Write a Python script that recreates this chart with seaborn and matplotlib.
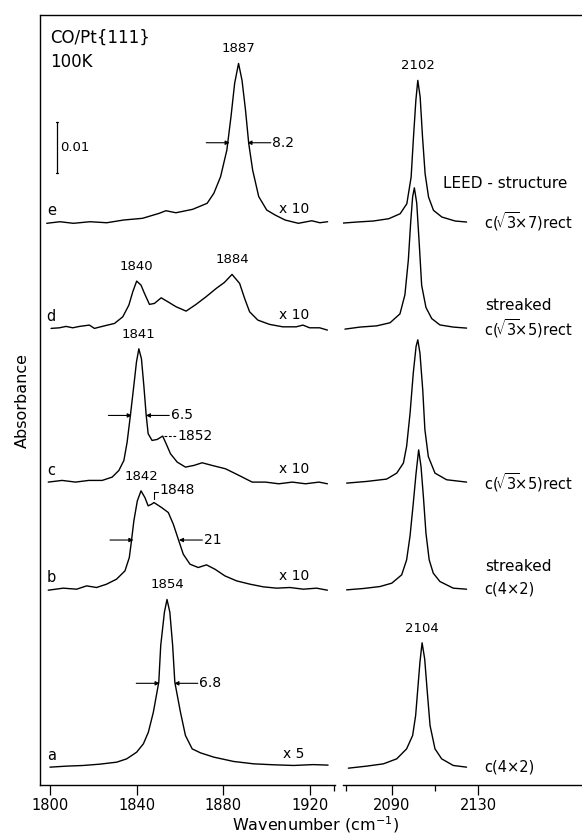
import matplotlib
matplotlib.use("Agg")
import matplotlib.pyplot as plt
from matplotlib.lines import Line2D
import numpy as np
import pandas as pd
import seaborn as sns

# IR spectra of CO on Pt{111} at 100 K, five coverages (a..e).
# Absorbance values are in units of 1e-3 as plotted; the bridge band
# (left panel) is shown magnified by the factor given in bridge_gain.

trace_names = ["a", "b", "c", "d", "e"]
trace_offsets = [3.5, 38.4, 59.4, 89.6, 110.4]
bridge_gain = ["x 5", "x 10", "x 10", "x 10", "x 10"]
leed_structure = ["c(4×2)", "c(4×2)", r"c($\!\sqrt{3}\!$×5)rect",
                  r"c($\!\sqrt{3}\!$×5)rect", r"c($\!\sqrt{3}\!$×7)rect"]
leed_streaked = [False, True, False, True, False]

# --- bridge-bonded CO band, 1800-1930 cm-1 ---
bridge_wn_a = [1800.0, 1807.7, 1815.4, 1823.1, 1830.8, 1835.4, 1840.0, 1843.1, 1845.4, 1847.7,
               1850.2, 1851.1, 1852.8, 1854.0, 1855.3, 1856.6, 1857.6, 1860.2, 1862.5, 1865.6,
               1869.4, 1875.6, 1884.8, 1894.0, 1903.3, 1912.5, 1921.4, 1928.3]
bridge_abs_a = [0, 0.2, 0.33, 0.59, 0.98, 1.63, 2.94, 4.58, 6.86, 10.78,
                16.67, 23.86, 30.39, 32.88, 30.39, 23.86, 16.67, 10.78, 6.21, 3.59,
                2.81, 1.96, 1.11, 0.65, 0.46, 0.33, 0.5, 0.4]

bridge_wn_b = [1799.2, 1806.1, 1812.3, 1816.9, 1821.5, 1826.1, 1830.7, 1834.6, 1836.6, 1837.6,
               1838.7, 1840.3, 1842.0, 1843.8, 1845.3, 1846.9, 1848.0, 1851.5, 1854.6, 1856.9,
               1859.2, 1861.5, 1864.6, 1868.4, 1872.2, 1876.1, 1880.7, 1886.1, 1892.3, 1898.4,
               1904.6, 1910.7, 1916.9, 1923.0, 1928.0]
bridge_abs_b = [-0.2, 0.2, 0, 0.65, 0.33, 0.98, 1.96, 3.59, 6.21, 9.48,
                13.4, 17.32, 19.28, 17.97, 16.34, 16.67, 16.99, 16.01, 15.03, 12.75,
                9.8, 6.86, 4.9, 4.25, 4.77, 3.92, 2.61, 1.63, 0.98, 0.46,
                0.2, 0.33, 0, 0.2, -0.2]

bridge_wn_c = [1799.2, 1805.6, 1811.8, 1817.9, 1824.1, 1828.7, 1831.8, 1834.1, 1835.6, 1837.1,
               1838.7, 1839.9, 1841.0, 1842.2, 1843.3, 1844.4, 1845.3, 1847.1, 1849.5, 1852.0,
               1853.6, 1855.6, 1858.7, 1862.5, 1866.4, 1870.2, 1874.8, 1881.0, 1887.2, 1893.3,
               1899.4, 1905.6, 1911.8, 1917.9, 1924.1, 1928.0]
bridge_abs_c = [0, 0.33, 0, 0.33, 0.33, 0.98, 2.29, 4.25, 7.84, 13.07,
                18.95, 23.53, 26.14, 24.18, 18.95, 13.07, 9.48, 8.17, 8.37, 9.02,
                7.52, 5.56, 3.92, 2.94, 3.27, 3.79, 3.27, 2.61, 1.31, 0,
                0, -0.33, 0, -0.33, 0, -0.33]

bridge_wn_d = [1800.5, 1804.4, 1807.4, 1810.5, 1813.6, 1818.2, 1820.5, 1825.2, 1829.8, 1833.6,
               1836.4, 1838.2, 1840.0, 1842.0, 1843.6, 1845.9, 1848.2, 1851.3, 1854.4, 1858.2,
               1862.8, 1867.4, 1872.0, 1876.7, 1880.5, 1884.0, 1887.5, 1889.8, 1892.1, 1895.9,
               1901.3, 1907.4, 1913.6, 1916.7, 1919.8, 1924.4, 1928.0]
bridge_abs_d = [-0.06, 0.06, 0.33, 0.06, 0.33, 0.59, -0.06, 0.45, 0.92, 2.22,
                4.51, 7.12, 9.22, 8.43, 6.80, 4.65, 4.84, 5.94, 5.16, 4.18,
                3.33, 4.65, 6.14, 7.78, 8.96, 10.53, 8.76, 5.82, 3.20, 1.57,
                0.73, 0.25, 0.25, 0.59, 0.06, 0.06, -0.39]

bridge_wn_e = [1798.5, 1804.6, 1810.8, 1818.5, 1826.2, 1833.9, 1842.7, 1850.4, 1853.5, 1858.1,
               1865.8, 1872.5, 1875.6, 1878.7, 1881.6, 1883.5, 1885.2, 1887.0, 1888.6, 1890.2,
               1891.7, 1893.5, 1896.3, 1900.0, 1903.9, 1908.5, 1914.6, 1920.8, 1924.5, 1928.1]
bridge_abs_e = [-0.25, 0.06, -0.25, 0.06, -0.14, 0.39, 0.73, 1.71, 2.22, 1.82,
                2.49, 3.67, 5.63, 8.88, 14.1, 20.6, 27.2, 31.1, 27.8, 22.0,
                15.4, 10.2, 5.0, 2.35, 1.37, 0.39, -0.25, 0.25, -0.14, 0.06]

# --- linear (on-top) CO band, 2065-2125 cm-1 ---
top_wn_a = [2069.7, 2078.2, 2086.0, 2092.2, 2096.8, 2099.6, 2101.0, 2102.0, 2103.0, 2104.0,
            2105.2, 2106.3, 2107.7, 2110.0, 2113.1, 2118.5, 2124.7]
top_abs_a = [-0.2, 0.2, 0.65, 1.63, 3.59, 6.21, 10.13, 15.36, 20.59, 24.38,
             21.24, 15.36, 8.17, 3.59, 1.63, 0.33, 0]

top_wn_b = [2068.9, 2076.6, 2084.4, 2089.9, 2094.5, 2096.8, 2098.4, 2099.9, 2101.2, 2102.4,
            2103.5, 2104.6, 2105.8, 2107.3, 2109.2, 2112.3, 2118.5, 2124.7]
top_abs_b = [-0.13, 0.13, 0.52, 1.18, 2.81, 5.75, 10.46, 16.86, 22.75, 27.32,
             24.05, 18.17, 10.98, 5.75, 3.14, 1.5, 0.2, 0]

top_wn_c = [2068.9, 2078.2, 2087.5, 2092.2, 2095.3, 2096.8, 2098.4, 2099.9, 2101.2, 2102.0,
            2103.0, 2104.3, 2105.3, 2106.9, 2110.0, 2115.4, 2124.7]
top_abs_c = [-0.2, 0.13, 0.59, 1.76, 3.73, 7.0, 13.5, 21.4, 26.6, 27.9,
             25.3, 18.1, 10.3, 5.0, 1.76, 0.46, 0]

top_wn_d = [2068.1, 2075.1, 2082.9, 2089.1, 2093.7, 2096.0, 2097.6, 2098.7, 2099.6, 2100.4,
            2101.5, 2102.6, 2103.8, 2105.8, 2108.5, 2112.3, 2118.5, 2124.7]
top_abs_d = [-0.2, 0.2, 0.44, 1.05, 2.79, 6.52, 13.35, 20.8, 25.76, 27.5,
             24.53, 17.07, 8.38, 4.04, 1.86, 0.62, 0.2, 0]

top_wn_e = [2067.3, 2073.6, 2081.3, 2088.5, 2093.8, 2096.9, 2098.9, 2100.0, 2101.1, 2102.0,
            2103.1, 2104.2, 2105.4, 2107.0, 2109.3, 2113.2, 2119.4, 2124.7]
top_abs_e = [-0.2, 0, 0.2, 0.65, 1.63, 3.59, 8.82, 16.67, 23.86, 27.78,
             24.51, 16.67, 9.48, 4.9, 2.29, 0.98, 0.2, 0]

# labelled band maxima (trace, band, wavenumber)
peak_marks = [("e", "bridge", 1887), ("e", "top", 2102),
              ("d", "bridge", 1840), ("d", "bridge", 1884),
              ("c", "bridge", 1841), ("b", "bridge", 1842),
              ("a", "bridge", 1854), ("a", "top", 2104)]
# shoulders
shoulder_c = 1852
shoulder_b = 1848
# full widths at half maximum of the bridge band
fwhm_traces = ["e", "c", "b", "a"]
fwhm_values = [8.2, 6.5, 21, 6.8]
fwhm_left_edge = [1882.9, 1837.75, 1838.5, 1850.6]

bridge = {"a": (bridge_wn_a, bridge_abs_a), "b": (bridge_wn_b, bridge_abs_b),
          "c": (bridge_wn_c, bridge_abs_c), "d": (bridge_wn_d, bridge_abs_d),
          "e": (bridge_wn_e, bridge_abs_e)}
top = {"a": (top_wn_a, top_abs_a), "b": (top_wn_b, top_abs_b),
       "c": (top_wn_c, top_abs_c), "d": (top_wn_d, top_abs_d),
       "e": (top_wn_e, top_abs_e)}
offset = dict(zip(trace_names, trace_offsets))

frames = []
for name in trace_names:
    for band, store in (("bridge", bridge), ("top", top)):
        wn, h = store[name]
        frames.append(pd.DataFrame({"wn": wn, "y": np.asarray(h) + offset[name],
                                    "trace": name, "band": band}))
df = pd.concat(frames, ignore_index=True)

sns.set_theme(style="white")
plt.rcParams["font.family"] = ["DejaVu Sans"]
plt.rcParams.update({"axes.edgecolor": "black", "text.color": "black",
                     "xtick.color": "black", "axes.linewidth": 1.0})

W, H = 582, 836
fig = plt.figure(figsize=(W / 100, H / 100), dpi=100)
fig.patch.set_facecolor("white")
axL = fig.add_axes([40 / W, 1 - 785 / H, 295 / W, 770 / H])
axR = fig.add_axes([343 / W, 1 - 785 / H, 239 / W, 770 / H])

for ax, band in ((axL, "bridge"), (axR, "top")):
    sns.lineplot(data=df[df.band == band], x="wn", y="y", units="trace",
                 estimator=None, sort=False, color="black", linewidth=1.0,
                 ax=ax, legend=False)
    ax.set_xlabel("")
    ax.set_ylabel("")
    ax.set_ylim(0, 151)
    ax.set_yticks([])
    ax.set_facecolor("white")
    ax.tick_params(axis="x", which="both", bottom=True, direction="out",
                   width=0.9, color="black", labelsize=10.5, pad=2)
    ax.tick_params(axis="x", which="major", length=7)
    ax.tick_params(axis="x", which="minor", length=4)
    for s in ("top", "right"):
        ax.spines[s].set_visible(False)

axR.spines["left"].set_visible(False)
axL.set_xlim(1795.4, 1931.5)
axL.set_xticks([1800, 1840, 1880, 1920])
axL.set_xticks([1931.2], minor=True)
axR.set_xlim(2067.2, 2178.4)
axR.set_xticks([2090, 2130])
axR.set_xticks([2068.5, 2110], minor=True)

# continuous top border over both panels
fig.add_artist(Line2D([40 / W, 1.0], [1 - 15 / H, 1 - 15 / H], color="black", lw=1.0))


def height_at(store, name, x):
    wn, h = store[name]
    return float(np.interp(x, wn, h))


# trace letters and magnification factors
for name, gain in zip(trace_names, bridge_gain):
    axL.text(1800.6, offset[name] + 2.2, name, fontsize=10.5, ha="center", va="center")
    axL.text(1912.5, offset[name] + 2.6, gain, fontsize=10, ha="center", va="center")

# LEED structures
axR.text(2113.7, 118.0, "LEED - structure", fontsize=11, ha="left", va="center")
for name, struct, streak in zip(trace_names, leed_structure, leed_streaked):
    axR.text(2133.0, offset[name], struct, fontsize=10.5, ha="left", va="center")
    if streak:
        axR.text(2133.4, offset[name] + 4.4, "streaked", fontsize=11, ha="left", va="center")

# peak positions
for name, band, x in peak_marks:
    store, ax = (bridge, axL) if band == "bridge" else (top, axR)
    y = offset[name] + height_at(store, name, x) + 2.9
    ax.text(x, y, f"{x:g}", fontsize=9.5, ha="center", va="center")

# shoulder of trace c with dashed leader
yc = offset["c"] + height_at(bridge, "c", shoulder_c)
axL.plot([shoulder_c + 0.8, shoulder_c + 6.5], [yc, yc], color="black", lw=0.8,
         ls=(0, (2.5, 1.5)))
axL.text(shoulder_c + 7.0, yc, f"{shoulder_c:g}", fontsize=10, ha="left", va="center")

# shoulder of trace b with bracket
yb = offset["b"] + height_at(bridge, "b", shoulder_b)
axL.plot([shoulder_b, shoulder_b, shoulder_b + 1.8], [yb + 0.6, yb + 2.1, yb + 2.1],
         color="black", lw=0.8)
axL.text(shoulder_b + 2.6, yb + 2.5, f"{shoulder_b:g}", fontsize=10, ha="left", va="center")

# FWHM arrows
arrow_kw = dict(arrowstyle="-|>", lw=0.8, color="black", mutation_scale=6,
                shrinkA=0, shrinkB=0)
for name, fw, left in zip(fwhm_traces, fwhm_values, fwhm_left_edge):
    peak_h = max(bridge[name][1])
    y = offset[name] + peak_h / 2
    right = left + fw
    axL.annotate("", xy=(left, y), xytext=(left - 10.8, y), arrowprops=arrow_kw)
    axL.annotate("", xy=(right, y), xytext=(right + 10.8, y), arrowprops=arrow_kw)
    axL.text(right + 11.4, y, f"{fw:g}", fontsize=10, ha="left", va="center")

# absorbance scale bar: 0.01
bar_x, bar_lo, bar_len = 1803.2, 120.0, 10.0
axL.plot([bar_x, bar_x], [bar_lo, bar_lo + bar_len], color="black", lw=0.9)
for yy in (bar_lo, bar_lo + bar_len):
    axL.plot([bar_x - 0.6, bar_x + 0.6], [yy, yy], color="black", lw=0.9)
axL.text(bar_x + 1.3, bar_lo + bar_len / 2, "0.01", fontsize=9.5, ha="left", va="center")

# sample description
axL.text(1800.0, 146.5, "CO/Pt{111}", fontsize=12, ha="left", va="center")
axL.text(1800.0, 141.8, "100K", fontsize=12, ha="left", va="center")

fig.text(22 / W, 1 - 400 / H, "Absorbance", rotation=90, fontsize=11.5,
         ha="center", va="center")
fig.text(316 / W, 1 - 825 / H, "Wavenumber (cm$^{-1}$)", fontsize=11.5,
         ha="center", va="center")

fig.savefig("out.png", dpi=100, facecolor="white")
